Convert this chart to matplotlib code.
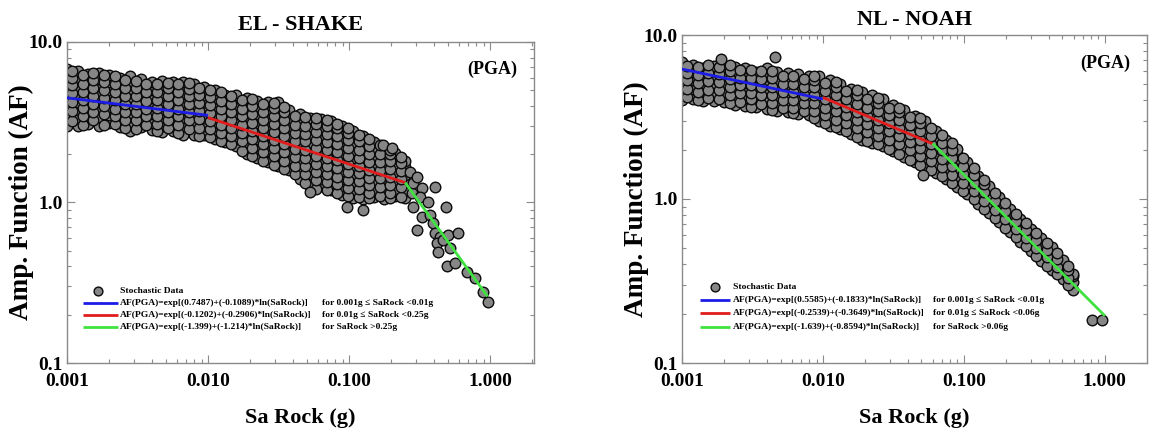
import numpy as np
import matplotlib
matplotlib.use("Agg")
import matplotlib.pyplot as plt
from matplotlib.ticker import LogLocator, NullFormatter, FixedLocator, FixedFormatter

plt.rcParams['font.family'] = ['Liberation Serif', 'DejaVu Serif']
plt.rcParams['font.weight'] = 'bold'

# ---------------- data ----------------
titles = ["EL - SHAKE", "NL - NOAH"]
x_ticks = [0.001, 0.01, 0.1, 1.0]
x_tick_labels = ["0.001", "0.010", "0.100", "1.000"]
y_ticks = [0.1, 1.0, 10.0]
y_tick_labels = ["0.1", "1.0", "10.0"]

# EL-SHAKE stochastic data: columns of points (Sa rock) with AF values
el_col_x = [0.001, 0.00119, 0.00141, 0.00168, 0.002, 0.00237, 0.00282, 0.00335, 0.00398,
            0.00473, 0.00562, 0.00668, 0.00794, 0.00944, 0.0112, 0.0133, 0.0158, 0.0188,
            0.0224, 0.0266, 0.0316, 0.0376, 0.0447, 0.0531, 0.0631, 0.075, 0.0891, 0.106,
            0.126, 0.15, 0.178, 0.211, 0.251]
el_col_af = [
    [3.0, 3.55, 3.98, 4.47, 5.01, 5.62, 6.31, 6.8],
    [2.99, 3.35, 3.76, 4.22, 4.73, 5.31, 5.96, 6.6],
    [3.1, 3.5, 4.0, 4.4, 5.0, 5.6, 6.3],
    [3.0, 3.4, 3.8, 4.2, 4.7, 5.3, 5.9, 6.4],
    [3.15, 3.5, 3.95, 4.45, 5.0, 5.6, 6.25],
    [2.95, 3.3, 3.75, 4.2, 4.75, 5.3, 5.95],
    [2.8, 3.15, 3.55, 4.0, 4.45, 5.0, 5.6, 6.1],
    [2.95, 3.35, 3.75, 4.2, 4.7, 5.3, 5.9],
    [2.82, 3.15, 3.55, 4.0, 4.45, 5.0, 5.6],
    [2.75, 3.0, 3.35, 3.75, 4.2, 4.7, 5.3, 5.7],
    [2.8, 3.15, 3.55, 4.0, 4.45, 5.0, 5.6],
    [2.65, 3.0, 3.35, 3.75, 4.2, 4.75, 5.3, 5.65],
    [2.65, 3.15, 3.55, 4.0, 4.45, 5.0, 5.45],
    [2.65, 3.0, 3.35, 3.75, 4.2, 4.7, 5.25],
    [2.5, 2.8, 3.15, 3.55, 4.0, 4.45, 5.0],
    [2.37, 2.65, 3.0, 3.35, 3.75, 4.2, 4.7],
    [2.24, 2.5, 2.8, 3.15, 3.55, 4.0, 4.45, 4.7],
    [2.0, 2.37, 2.66, 2.98, 3.35, 3.76, 4.22, 4.5],
    [1.9, 2.24, 2.5, 2.8, 3.15, 3.55, 4.0, 4.3],
    [1.8, 2.1, 2.37, 2.65, 3.0, 3.35, 3.75, 4.2],
    [1.7, 2.0, 2.24, 2.5, 2.8, 3.15, 3.55, 4.0, 4.2],
    [1.6, 1.88, 2.1, 2.37, 2.65, 3.0, 3.35, 3.75],
    [1.41, 1.58, 1.78, 2.0, 2.24, 2.51, 2.82, 3.16, 3.55],
    [1.27, 1.5, 1.68, 1.88, 2.11, 2.37, 2.66, 2.98, 3.35],
    [1.26, 1.41, 1.58, 1.78, 2.0, 2.24, 2.51, 2.82, 3.16, 3.3],
    [1.19, 1.33, 1.5, 1.68, 1.88, 2.11, 2.37, 2.66, 2.98, 3.2],
    [1.12, 1.26, 1.41, 1.58, 1.78, 2.0, 2.24, 2.51, 2.82, 3.0],
    [1.06, 1.19, 1.33, 1.5, 1.68, 1.88, 2.11, 2.37, 2.66, 2.8],
    [1.05, 1.18, 1.32, 1.48, 1.66, 1.86, 2.08, 2.33, 2.6],
    [1.08, 1.22, 1.37, 1.53, 1.72, 1.93, 2.16, 2.38],
    [1.05, 1.18, 1.32, 1.48, 1.66, 1.86, 2.08, 2.22],
    [1.09, 1.22, 1.37, 1.53, 1.72, 1.93, 2.03],
    [1.06, 1.18, 1.32, 1.48, 1.66, 1.82],
]
# EL-SHAKE: points lying between the columns above
el_mid_x = [0.00109, 0.0013, 0.00154, 0.00183, 0.00218, 0.00259, 0.00308, 0.00366, 0.00435,
            0.00517, 0.00615, 0.00731, 0.00869, 0.0103, 0.0123, 0.0146, 0.0174, 0.0206,
            0.0245, 0.0292, 0.0347, 0.0413, 0.0491, 0.0583, 0.0694, 0.0825, 0.0981, 0.117,
            0.139, 0.165, 0.196, 0.233]
el_mid_af = [
    [3.2, 3.7, 4.2, 4.8, 5.4, 6.0, 6.6],
    [3.05, 3.45, 3.9, 4.35, 4.9, 5.5, 6.2],
    [3.25, 3.65, 4.1, 4.6, 5.15, 5.8, 6.45],
    [3.05, 3.55, 4.0, 4.45, 5.0, 5.65, 6.2],
    [3.1, 3.45, 3.85, 4.35, 4.9, 5.45, 6.1],
    [2.9, 3.25, 3.65, 4.1, 4.6, 5.15, 5.8],
    [2.85, 3.25, 3.65, 4.1, 4.6, 5.15, 5.75],
    [3.05, 3.45, 3.85, 4.3, 4.85, 5.45],
    [2.78, 3.1, 3.45, 3.9, 4.35, 4.9, 5.5],
    [2.9, 3.25, 3.65, 4.1, 4.6, 5.15, 5.55],
    [2.72, 3.05, 3.45, 3.85, 4.35, 4.9, 5.45],
    [2.85, 3.25, 3.65, 4.1, 4.6, 5.1, 5.55],
    [2.6, 2.9, 3.3, 3.7, 4.15, 4.65, 5.2],
    [2.55, 2.85, 3.2, 3.6, 4.05, 4.55, 5.05],
    [2.42, 2.7, 3.05, 3.45, 3.85, 4.3, 4.85],
    [2.3, 2.6, 2.9, 3.25, 3.65, 4.1, 4.6],
    [2.1, 2.4, 2.7, 3.05, 3.45, 3.85, 4.35],
    [1.95, 2.2, 2.5, 2.8, 3.15, 3.55, 4.0, 4.4],
    [1.82, 2.05, 2.3, 2.6, 2.9, 3.25, 3.65, 4.1],
    [1.72, 1.95, 2.2, 2.45, 2.75, 3.1, 3.45, 3.9, 4.15],
    [1.62, 1.82, 2.05, 2.3, 2.58, 2.9, 3.25, 3.65, 3.95],
    [1.5, 1.7, 1.92, 2.15, 2.42, 2.72, 3.05, 3.45],
    [1.33, 1.5, 1.7, 1.9, 2.13, 2.4, 2.68, 3.0, 3.4],
    [1.22, 1.38, 1.55, 1.74, 1.95, 2.18, 2.45, 2.75, 3.1, 3.35],
    [1.2, 1.34, 1.5, 1.7, 1.9, 2.12, 2.38, 2.68, 3.0, 3.25],
    [1.15, 1.3, 1.45, 1.63, 1.83, 2.05, 2.3, 2.58, 2.9, 3.1],
    [1.1, 1.23, 1.38, 1.55, 1.73, 1.94, 2.17, 2.44, 2.72, 2.9],
    [1.08, 1.21, 1.36, 1.52, 1.7, 1.9, 2.13, 2.4, 2.62],
    [1.06, 1.15, 1.28, 1.43, 1.6, 1.79, 2.0, 2.24, 2.48],
    [1.1, 1.25, 1.42, 1.6, 1.8, 2.0, 2.28],
    [1.07, 1.15, 1.29, 1.45, 1.62, 1.82, 2.0, 2.12],
    [1.08, 1.25, 1.4, 1.57, 1.76, 1.92],
]
el_extra_x = [0.0968, 0.126, 0.0529, 0.27, 0.28, 0.284, 0.330, 0.319, 0.407, 0.363, 0.284,
              0.330, 0.375, 0.304, 0.488, 0.394, 0.407, 0.442, 0.421, 0.428, 0.464, 0.504,
              0.520, 0.593, 0.495, 0.565, 0.687, 0.783, 0.892, 0.969, 0.304, 0.174, 0.202]
el_extra_af = [0.94, 0.90, 1.16, 1.55, 1.15, 1.32, 1.23, 1.08, 1.25, 1.01, 0.94,
               0.81, 0.84, 0.67, 0.94, 0.75, 0.65, 0.61, 0.56, 0.49, 0.58, 0.63,
               0.52, 0.65, 0.40, 0.42, 0.37, 0.34, 0.277, 0.24, 1.44, 2.28, 2.19]

# EL-SHAKE fitted segments (end points)
el_fit_x = [[0.001, 0.01], [0.01, 0.25], [0.25, 0.96]]
el_fit_af = [[4.49, 3.49], [3.38, 1.33], [1.33, 0.26]]
el_fit_labels = ["AF(PGA)=exp[(0.7487)+(-0.1089)*ln(SaRock)]",
                 "AF(PGA)=exp[(-0.1202)+(-0.2906)*ln(SaRock)]",
                 "AF(PGA)=exp[(-1.399)+(-1.214)*ln(SaRock)]"]
el_fit_ranges = ["for 0.001g \u2264 SaRock <0.01g",
                 "for 0.01g \u2264 SaRock <0.25g",
                 "for SaRock >0.25g"]

# NL-NOAH stochastic data
nl_col_x = [0.001, 0.00119, 0.00141, 0.00168, 0.002, 0.00237, 0.00282, 0.00335, 0.00398,
            0.00473, 0.00562, 0.00668, 0.00794, 0.00944, 0.0112, 0.0133, 0.0158, 0.0188,
            0.0224, 0.0266, 0.0316, 0.0376, 0.0447, 0.0531, 0.0631, 0.075, 0.0891, 0.106,
            0.126, 0.15, 0.178, 0.211, 0.251, 0.299, 0.355, 0.422, 0.501, 0.596]
nl_col_af = [
    [4.0, 4.45, 5.0, 5.6, 6.3, 6.8],
    [4.1, 4.7, 5.3, 5.95, 6.6],
    [3.98, 4.47, 5.0, 5.6, 6.3],
    [3.95, 4.4, 4.9, 5.45, 6.05, 6.5],
    [3.9, 4.4, 5.0, 5.6, 6.3],
    [3.76, 4.22, 4.73, 5.31, 5.96, 6.4],
    [3.7, 4.15, 4.6, 5.1, 5.7, 6.3],
    [3.62, 4.22, 4.73, 5.31, 5.96],
    [3.55, 3.98, 4.47, 5.01, 5.62, 6.25],
    [3.45, 3.76, 4.22, 4.73, 5.31, 5.96],
    [3.4, 3.8, 4.25, 4.75, 5.3, 5.9],
    [3.3, 3.7, 4.15, 4.65, 5.2, 5.8],
    [3.25, 3.6, 4.0, 4.5, 5.0, 5.6],
    [3.0, 3.35, 3.76, 4.22, 4.73, 5.31, 5.6],
    [2.8, 3.16, 3.55, 3.98, 4.47, 5.01, 5.3],
    [2.66, 2.98, 3.35, 3.76, 4.22, 4.73, 5.0],
    [2.5, 2.8, 3.16, 3.55, 3.98, 4.47, 4.7],
    [2.3, 2.66, 2.98, 3.35, 3.76, 4.22, 4.5],
    [2.2, 2.51, 2.82, 3.16, 3.55, 3.98, 4.3],
    [2.11, 2.37, 2.66, 2.98, 3.35, 3.76, 4.05],
    [1.95, 2.24, 2.51, 2.82, 3.16, 3.55, 3.75],
    [1.8, 2.1, 2.37, 2.66, 2.98, 3.35, 3.5],
    [1.68, 1.9, 2.12, 2.4, 2.7, 3.0, 3.2],
    [1.58, 1.78, 2.0, 2.24, 2.51, 2.82, 3.0],
    [1.45, 1.65, 1.85, 2.05, 2.3, 2.6],
    [1.32, 1.5, 1.68, 1.88, 2.1, 2.3],
    [1.18, 1.33, 1.5, 1.68, 1.88, 2.03],
    [1.07, 1.2, 1.35, 1.52, 1.68],
    [0.93, 1.04, 1.17, 1.3, 1.38],
    [0.82, 0.92, 1.03, 1.15, 1.2],
    [0.72, 0.81, 0.91, 1.03],
    [0.63, 0.71, 0.79, 0.87],
    [0.55, 0.62, 0.69, 0.76],
    [0.48, 0.54, 0.6, 0.66],
    [0.42, 0.47, 0.52, 0.575],
    [0.37, 0.41, 0.46, 0.51],
    [0.325, 0.36, 0.4, 0.425],
    [0.28, 0.31, 0.34, 0.35],
]
nl_mid_x = [0.00109, 0.0013, 0.00154, 0.00183, 0.00218, 0.00259, 0.00308, 0.00366, 0.00435,
            0.00517, 0.00615, 0.00731, 0.00869, 0.0103, 0.0123, 0.0146, 0.0174, 0.0206,
            0.0245, 0.0292, 0.0347, 0.0413, 0.0491, 0.0583, 0.0694, 0.0825, 0.0981, 0.117,
            0.139, 0.165, 0.196, 0.233, 0.274, 0.326, 0.387, 0.46, 0.547]
nl_mid_af = [
    [4.2, 4.7, 5.3, 5.9, 6.5],
    [4.0, 4.5, 5.1, 5.7, 6.4],
    [4.15, 4.65, 5.25, 5.85, 6.55],
    [4.05, 4.6, 5.15, 5.75, 6.4],
    [3.85, 4.3, 4.8, 5.4, 6.05, 6.6],
    [3.9, 4.4, 4.95, 5.5, 6.15],
    [3.65, 4.05, 4.45, 4.95, 5.5, 6.1],
    [3.8, 4.3, 4.85, 5.4, 6.0],
    [3.5, 3.85, 4.3, 4.85, 5.45, 6.05],
    [3.6, 4.0, 4.5, 5.05, 5.65],
    [3.35, 3.6, 4.0, 4.5, 5.05, 5.65],
    [3.45, 3.85, 4.3, 4.85, 5.4],
    [3.1, 3.45, 3.85, 4.3, 4.8, 5.35, 5.65],
    [2.9, 3.25, 3.6, 4.05, 4.55, 5.1],
    [2.75, 3.05, 3.45, 3.85, 4.3, 4.85, 5.15],
    [2.58, 2.9, 3.25, 3.65, 4.1, 4.55],
    [2.4, 2.7, 3.05, 3.4, 3.8, 4.3, 4.6],
    [2.25, 2.55, 2.85, 3.2, 3.6, 4.05],
    [2.15, 2.42, 2.72, 3.05, 3.42, 3.85, 4.15],
    [2.02, 2.3, 2.58, 2.9, 3.25, 3.6],
    [1.88, 2.15, 2.42, 2.72, 3.05, 3.4, 3.6],
    [1.74, 1.98, 2.22, 2.5, 2.82, 3.15],
    [1.62, 1.82, 2.05, 2.3, 2.6, 2.9, 3.1],
    [1.5, 1.7, 1.92, 2.15, 2.42, 2.7],
    [1.38, 1.56, 1.76, 1.98, 2.2, 2.45],
    [1.25, 1.4, 1.58, 1.78, 1.98, 2.18],
    [1.12, 1.26, 1.42, 1.6, 1.78],
    [1.0, 1.12, 1.26, 1.41, 1.55],
    [0.87, 0.97, 1.1, 1.23, 1.3],
    [0.77, 0.86, 0.97, 1.09],
    [0.67, 0.75, 0.84, 0.94],
    [0.59, 0.66, 0.73, 0.81],
    [0.52, 0.58, 0.65, 0.71],
    [0.45, 0.5, 0.56, 0.62],
    [0.39, 0.44, 0.49, 0.54],
    [0.35, 0.385, 0.43, 0.47],
    [0.3, 0.33, 0.37, 0.39],
]
nl_extra_x = [0.0515, 0.00457, 0.0019, 0.81, 0.953]
nl_extra_af = [1.40, 7.3, 7.1, 0.183, 0.183]

nl_fit_x = [[0.001, 0.01], [0.01, 0.06], [0.06, 1.0]]
nl_fit_af = [[6.20, 4.07], [4.16, 2.17], [2.18, 0.194]]
nl_fit_labels = ["AF(PGA)=exp[(0.5585)+(-0.1833)*ln(SaRock)]",
                 "AF(PGA)=exp[(-0.2539)+(-0.3649)*ln(SaRock)]",
                 "AF(PGA)=exp[(-1.639)+(-0.8594)*ln(SaRock)]"]
nl_fit_ranges = ["for 0.001g \u2264 SaRock <0.01g",
                 "for 0.01g \u2264 SaRock <0.06g",
                 "for SaRock >0.06g"]

fit_colors = ["#1c1ce6", "#e21c1c", "#3fe23f"]

# ---------------- figure ----------------
W, H = 1150, 433
fig = plt.figure(figsize=(W / 100, H / 100), dpi=100)
fig.patch.set_facecolor("white")

ax1 = fig.add_axes([67 / W, 1 - 363 / H, 467 / W, 321 / H])
ax2 = fig.add_axes([682 / W, 1 - 363 / H, 465 / W, 328 / H])

panels = [
    (ax1, [(el_col_x, el_col_af), (el_mid_x, el_mid_af)], el_extra_x, el_extra_af,
     el_fit_x, el_fit_af, el_fit_labels, el_fit_ranges, titles[0], 2.05, 9,
     dict(mx=0.066, lx0=0.034, lx1=0.109, tx=0.113, cx=0.546, rows=[0.224, 0.187, 0.150, 0.112])),
    (ax2, [(nl_col_x, nl_col_af), (nl_mid_x, nl_mid_af)], nl_extra_x, nl_extra_af,
     nl_fit_x, nl_fit_af, nl_fit_labels, nl_fit_ranges, titles[1], 1.99, 7,
     dict(mx=0.071, lx0=0.039, lx1=0.103, tx=0.110, cx=0.540, rows=[0.232, 0.192, 0.152, 0.110])),
]

spine_col = "#8a8a8a"
for (ax, groups, ex, eaf, fx, faf, flab, frng, title, xmax, tpad, lg) in panels:
    px = []
    py = []
    for cx_, caf in groups:
        for xv, col in zip(cx_, caf):
            for yv in col:
                px.append(xv)
                py.append(yv)
    px += list(ex)
    py += list(eaf)
    ax.scatter(px, py, s=58, facecolor="#868686", edgecolor="#0a0a0a",
               linewidths=1.0, zorder=2)
    for (xs, ys, c) in zip(fx, faf, fit_colors):
        ax.plot(xs, ys, color=c, lw=2.0, zorder=3, solid_capstyle="butt")

    ax.set_xscale("log")
    ax.set_yscale("log")
    ax.set_xlim(0.001, xmax)
    ax.set_ylim(0.1, 10.0)
    ax.xaxis.set_major_locator(FixedLocator(x_ticks))
    ax.xaxis.set_major_formatter(FixedFormatter(x_tick_labels))
    ax.yaxis.set_major_locator(FixedLocator(y_ticks))
    ax.yaxis.set_major_formatter(FixedFormatter(y_tick_labels))
    ax.xaxis.set_minor_locator(LogLocator(base=10, subs=np.arange(2, 10)))
    ax.yaxis.set_minor_locator(LogLocator(base=10, subs=np.arange(2, 10)))
    ax.xaxis.set_minor_formatter(NullFormatter())
    ax.yaxis.set_minor_formatter(NullFormatter())
    ax.tick_params(which="both", direction="in", top=True, right=True,
                   color=spine_col, width=0.8)
    ax.tick_params(which="major", length=6, labelsize=14)
    ax.tick_params(axis="x", which="major", pad=7)
    ax.tick_params(axis="y", which="major", pad=3)
    ax.tick_params(which="minor", length=3)
    for lab in ax.get_xticklabels() + ax.get_yticklabels():
        lab.set_fontweight("bold")
    for sp in ax.spines.values():
        sp.set_color(spine_col)
        sp.set_linewidth(1.0)

    ax.set_title(title, fontsize=16, fontweight="bold", pad=tpad)
    ax.set_xlabel("Sa Rock (g)", fontsize=16, fontweight="bold")
    ax.set_ylabel("Amp. Function (AF)", fontsize=19.5, fontweight="bold")
    ax.text(0.965, 0.915, "(PGA)", transform=ax.transAxes, ha="right", va="center",
            fontsize=13, fontweight="bold")

    # legend (drawn manually to keep the two text columns)
    r = lg["rows"]
    ax.scatter([lg["mx"]], [r[0]], s=40, facecolor="#868686", edgecolor="#0a0a0a",
               linewidths=1.0, transform=ax.transAxes, zorder=4, clip_on=False)
    ax.text(lg["tx"], r[0], "Stochastic Data", transform=ax.transAxes, ha="left",
            va="center", fontsize=6.8, fontweight="bold")
    for i in range(3):
        ax.plot([lg["lx0"], lg["lx1"]], [r[i + 1], r[i + 1]], color=fit_colors[i], lw=2.0,
                transform=ax.transAxes, zorder=4, solid_capstyle="butt")
        ax.text(lg["tx"], r[i + 1], flab[i], transform=ax.transAxes, ha="left",
                va="center", fontsize=6.8, fontweight="bold")
        ax.text(lg["cx"], r[i + 1], frng[i], transform=ax.transAxes, ha="left",
                va="center", fontsize=6.8, fontweight="bold")

ax1.xaxis.set_label_coords(0.5, -0.14)
ax2.xaxis.set_label_coords(0.5, -0.137)
ax1.yaxis.set_label_coords(-0.07, 0.5)
ax2.yaxis.set_label_coords(-0.07, 0.5)

fig.savefig("out.png", dpi=100, facecolor="white")
